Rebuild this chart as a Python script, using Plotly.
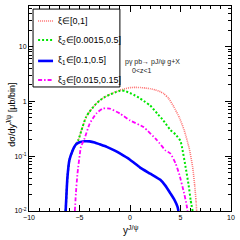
import plotly.graph_objects as go

# ---- data ----
x_red = [-6.37, -6.2, -6.0, -5.7, -5.4, -5.1, -4.8, -4.35, -4.0, -3.5, -3.0, -2.5, -2.0, -1.5,
         -1.0, -0.5, 0.0, 0.5, 1.0, 1.5, 2.0, 2.5, 3.0, 3.35, 3.8, 4.35, 4.9, 5.36, 5.86, 6.2, 6.4, 6.53, 6.6]
y_red = [0.01, 0.04, 0.085, 0.125, 0.16, 0.2, 0.3, 0.52, 0.65, 0.85, 1.04, 1.2, 1.34, 1.47,
         1.6, 1.7, 1.78, 1.8, 1.79, 1.75, 1.70, 1.62, 1.5, 1.38, 1.15, 0.79, 0.5, 0.30, 0.14, 0.064, 0.03, 0.016, 0.01]

x_green = [-6.37, -6.2, -6.0, -5.7, -5.4, -5.1, -4.8, -4.35, -4.0, -3.5, -3.0, -2.5, -2.0, -1.5,
           -1.0, -0.8, -0.5, 0.0, 0.5, 1.0, 1.5, 2.0, 2.7, 3.3, 4.0, 4.5, 5.0, 5.2, 5.5, 5.8, 6.0, 6.2]
y_green = [0.01, 0.04, 0.085, 0.125, 0.16, 0.2, 0.3, 0.52, 0.65, 0.85, 1.04, 1.2, 1.33, 1.45,
           1.56, 1.58, 1.55, 1.42, 1.28, 1.13, 0.98, 0.84, 0.6, 0.45, 0.30, 0.25, 0.19, 0.13, 0.064, 0.03, 0.016, 0.01]

x_blue = [-6.37, -6.2, -6.0, -5.7, -5.4, -5.0, -4.5, -4.0, -3.5, -3.0, -2.3, -1.5, -1.0, 0.0,
          1.0, 2.0, 3.0, 3.5, 4.0, 4.4, 4.7, 4.8]
y_blue = [0.01, 0.04, 0.085, 0.125, 0.16, 0.18, 0.187, 0.186, 0.178, 0.165, 0.148, 0.126, 0.112, 0.086,
          0.062, 0.048, 0.037, 0.029, 0.021, 0.016, 0.012, 0.01]

x_mag = [-5.46, -5.35, -5.2, -4.86, -4.5, -4.0, -3.35, -2.7, -2.0, -1.0, 0.0, 1.34, 2.68, 3.5,
         4.0, 4.5, 4.86, 5.36, 5.6, 5.7]
y_mag = [0.01, 0.022, 0.048, 0.148, 0.21, 0.39, 0.6, 0.74, 0.74, 0.6, 0.45, 0.34, 0.195, 0.128,
         0.112, 0.075, 0.048, 0.021, 0.013, 0.01]

labels = ["ξ∈[0,1]", "ξ<sub>2</sub>∈[0.0015,0.5]", "ξ<sub>1</sub>∈[0.1,0.5]", "ξ<sub>3</sub>∈[0.015,0.15]"]
colors = ["#ff6f6f", "#00e600", "#0000ff", "#ff00ff"]
dashes = ["1px,1px", "2px,2px", "solid", "4px,2px,1.5px,2px"]
widths = [1.6, 2.0, 2.6, 1.8]

x_ticks = [-10, -5, 0, 5, 10]
y_ticks = [0.01, 0.1, 1, 10]
y_ticktext = ["10<sup>-2</sup>", "10<sup>-1</sup>", "1", "10"]

series = [(x_red, y_red), (x_green, y_green), (x_blue, y_blue), (x_mag, y_mag)]

fig = go.Figure()
for (xs, ys), lab, c, d, w in zip(series, labels, colors, dashes, widths):
    fig.add_trace(go.Scatter(x=xs, y=ys, mode="lines", name=lab, showlegend=False,
                             line=dict(color=c, dash=d, width=w, shape="spline", smoothing=0.4)))

font = "Liberation Sans"
fig.update_layout(
    width=240, height=240,
    margin=dict(l=29, r=9, t=6, b=29),
    paper_bgcolor="white", plot_bgcolor="white",
    font=dict(family=font, color="black"),
    xaxis=dict(range=[-10, 10], tickvals=x_ticks, ticks="inside", ticklen=6, tickcolor="black",
               showline=True, mirror="allticks", linecolor="black", linewidth=1,
               showgrid=False, zeroline=False, tickfont=dict(size=7, family=font),
               minor=dict(dtick=1, ticks="inside", ticklen=3, tickcolor="black")),
    yaxis=dict(type="log", range=[-2, 1.74], tickvals=y_ticks, ticktext=y_ticktext,
               ticks="inside", ticklen=6, tickcolor="black",
               showline=True, mirror="allticks", linecolor="black", linewidth=1,
               showgrid=False, zeroline=False, tickfont=dict(size=7, family=font),
               minor=dict(ticks="inside", ticklen=3, tickcolor="black", dtick="D1")),
)

# legend box (drawn manually to match the compact ROOT legend)
lx0, lx1, ly0, ly1 = 0.02, 0.45, 0.605, 0.985
fig.add_shape(type="rect", xref="paper", yref="paper", x0=lx0, x1=lx1, y0=ly0, y1=ly1,
              line=dict(color="black", width=1), fillcolor="white", layer="above")
entry_y = [0.927, 0.834, 0.732, 0.639]
for ey, lab, c, d, w in zip(entry_y, labels, colors, dashes, widths):
    fig.add_shape(type="line", xref="paper", yref="paper", x0=0.045, x1=0.119, y0=ey, y1=ey,
                  line=dict(color=c, dash=d, width=w), layer="above")
    fig.add_annotation(xref="paper", yref="paper", x=0.135, y=ey, text=lab, showarrow=False,
                       xanchor="left", yanchor="middle", font=dict(size=9, family=font))

fig.add_annotation(xref="paper", yref="paper", x=0.61, y=0.727, text="pγ pb→ pJ/ψ g+X",
                   showarrow=False, yanchor="middle", font=dict(size=7, family=font, color="#222"))
fig.add_annotation(xref="paper", yref="paper", x=0.56, y=0.683, text="0&lt;z&lt;1",
                   showarrow=False, yanchor="middle", font=dict(size=7, family=font, color="#222"))
fig.add_annotation(xref="paper", yref="paper", x=-0.089, y=0.47, text="dσ/dy<sup>J/ψ</sup> [μb/bin]",
                   textangle=-90, showarrow=False, xanchor="center", yanchor="middle",
                   font=dict(size=9, family=font))
fig.add_annotation(xref="paper", yref="paper", x=0.5, y=-0.093, text="y<sup>J/ψ</sup>",
                   showarrow=False, yanchor="middle", font=dict(size=10, family=font))

fig.write_html("out.html", config={"displayModeBar": False},
               post_script="document.body.style.margin='0';")
